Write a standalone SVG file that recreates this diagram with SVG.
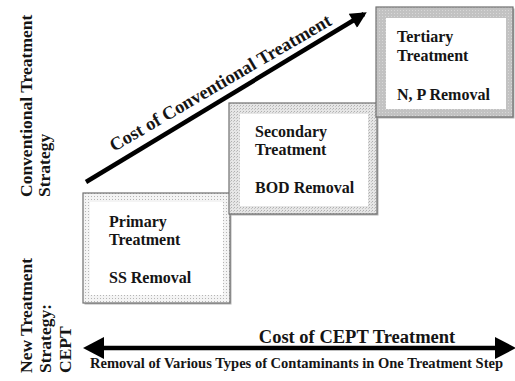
<svg xmlns="http://www.w3.org/2000/svg" width="515" height="381" viewBox="0 0 515 381">
  <style>
    .lbl { font-family: "Liberation Serif", "Times New Roman", serif; font-weight: bold; fill: #151515; }
    .box-text { font-size: 16px; }
    .side { font-size: 17.5px; }
    .frame { stroke: #707070; stroke-width: 1.2; }
    .shadow { fill: #b4b4b4; }
    .inner { fill: #ffffff; }
    .arrow-line { stroke: #000; stroke-width: 4.5; fill: none; }
  </style>
  <defs>
    <!-- light stipple for the primary step -->
    <pattern id="dotsLight" width="3" height="3" patternUnits="userSpaceOnUse">
      <rect width="3" height="3" fill="#f4f4f4"/>
      <rect x="1" y="1" width="1" height="1" fill="#b5b5b5"/>
    </pattern>
    <!-- slightly denser stipple for the secondary step -->
    <pattern id="dotsMid" width="3" height="3" patternUnits="userSpaceOnUse">
      <rect width="3" height="3" fill="#e6e6e6"/>
      <rect x="0" y="0" width="1" height="1" fill="#b0b0b0"/>
      <rect x="2" y="1" width="1" height="1" fill="#c4c4c4"/>
    </pattern>
    <!-- darker grey texture for the tertiary step -->
    <pattern id="dotsDark" width="3" height="3" patternUnits="userSpaceOnUse">
      <rect width="3" height="3" fill="#c2c2c2"/>
      <rect x="1" y="1" width="1" height="1" fill="#d8d8d8"/>
    </pattern>
    <marker id="headUp" viewBox="0 0 10 10" refX="8" refY="5" markerWidth="4.4" markerHeight="3.6" orient="auto" markerUnits="strokeWidth">
      <path d="M0,0 L10,5 L0,10 z" fill="#000"/>
    </marker>
  </defs>

  <!-- side captions -->
  <g id="label-conventional">
    <text class="lbl side" transform="translate(32,197) rotate(-90)">Conventional Treatment</text>
    <text class="lbl side" transform="translate(50,197) rotate(-90)">Strategy</text>
  </g>
  <g id="label-new">
    <text class="lbl side" transform="translate(32,373) rotate(-90)">New Treatment</text>
    <text class="lbl side" transform="translate(51,373) rotate(-90)">Strategy:</text>
    <text class="lbl side" transform="translate(71,373) rotate(-90)">CEPT</text>
  </g>

  <!-- treatment steps -->
  <g id="primary">
    <rect class="shadow" x="84.5" y="194.5" width="147" height="110"/>
    <rect class="frame" x="83" y="193" width="147" height="110" fill="url(#dotsLight)"/>
    <rect class="inner" x="90" y="202" width="133" height="93"/>
    <text class="lbl box-text" x="109" y="227">Primary</text>
    <text class="lbl box-text" x="109" y="245">Treatment</text>
    <text class="lbl box-text" x="109" y="283">SS Removal</text>
  </g>
  <g id="secondary">
    <rect class="shadow" x="230.5" y="104.5" width="148" height="111"/>
    <rect class="frame" x="229" y="103" width="148" height="111" fill="url(#dotsMid)"/>
    <rect class="inner" x="240" y="114" width="128" height="92"/>
    <text class="lbl box-text" x="255" y="137">Secondary</text>
    <text class="lbl box-text" x="255" y="155">Treatment</text>
    <text class="lbl box-text" x="255" y="193">BOD Removal</text>
  </g>
  <g id="tertiary">
    <rect class="shadow" x="377.5" y="8.5" width="137" height="110"/>
    <rect class="frame" x="376" y="7" width="137" height="110" fill="url(#dotsDark)"/>
    <rect class="inner" x="386" y="18" width="120" height="91"/>
    <text class="lbl box-text" x="397" y="42">Tertiary</text>
    <text class="lbl box-text" x="397" y="61">Treatment</text>
    <text class="lbl box-text" x="397" y="100">N, P Removal</text>
  </g>

  <!-- connectors -->
  <g id="connectors">
    <line class="arrow-line" x1="86" y1="182" x2="364" y2="14" marker-end="url(#headUp)"/>
    <line class="arrow-line" x1="100" y1="348" x2="498" y2="348" stroke-width="5"/>
    <polygon points="83,348 104,337 104,359" fill="#000"/>
    <polygon points="516,348 495,337 495,359" fill="#000"/>
  </g>

  <!-- cost captions -->
  <g id="cost-captions">
    <text class="lbl" font-size="18.5" transform="translate(114,152) rotate(-30.3)">Cost of Conventional Treatment</text>
    <text class="lbl" font-size="18.5" x="357" y="343" text-anchor="middle">Cost of CEPT Treatment</text>
    <text class="lbl" font-size="14.5" x="90" y="368" textLength="413" lengthAdjust="spacingAndGlyphs">Removal of Various Types of Contaminants in One Treatment Step</text>
  </g>
</svg>
